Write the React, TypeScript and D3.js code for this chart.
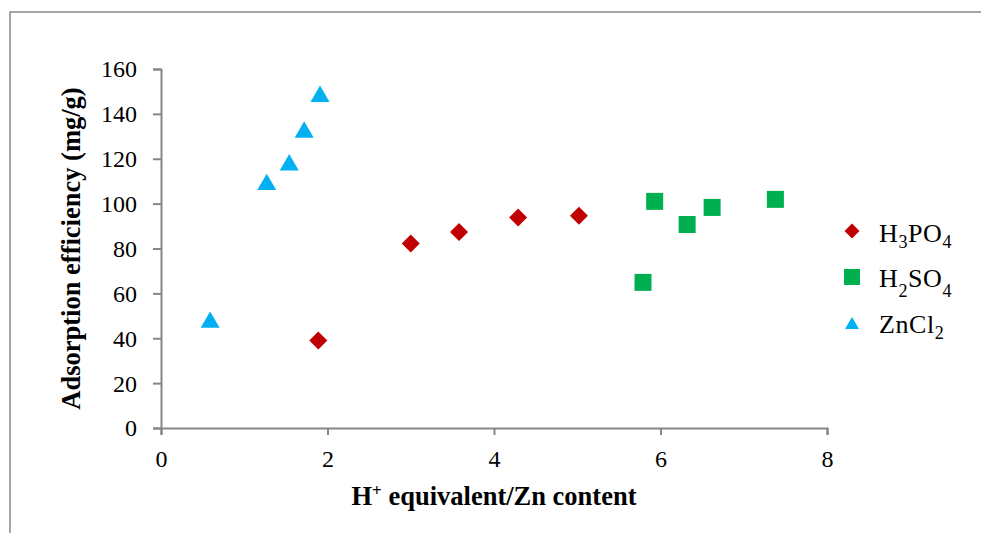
import { useEffect, useRef } from 'react';
import * as d3 from 'd3';

// values
const h3po4X = [1.89, 3.0, 3.58, 4.29, 5.02];
const h3po4Y = [39, 82.2, 87.4, 93.8, 94.6];
const h2so4X = [5.79, 5.93, 6.32, 6.62, 7.38];
const h2so4Y = [64.9, 101, 90.7, 98.3, 101.9];
const zncl2X = [0.59, 1.27, 1.54, 1.72, 1.91];
const zncl2Y = [48.3, 109.7, 118.4, 133, 149];
const xTicks = [0, 2, 4, 6, 8];
const yTicks = [0, 20, 40, 60, 80, 100, 120, 140, 160];

const W = 981;
const H = 533;
const FONT = '"Liberation Serif", "Times New Roman", serif';
const AXIS = '#868686';

export default function App() {
  const ref = useRef<SVGSVGElement | null>(null);

  useEffect(() => {
    const svg = d3.select(ref.current);
    svg.selectAll('*').remove();

    const x = d3.scaleLinear().domain([0, 8]).range([161, 827]);
    const y = d3.scaleLinear().domain([0, 160]).range([428, 69]);

    // outer frame: only top and left edges fall inside the picture
    svg.append('path')
      .attr('d', `M10,${H + 5}V12H${W + 5}`)
      .attr('fill', 'none').attr('stroke', '#898989').attr('stroke-width', 1.5);

    // y axis
    const gy = svg.append('g').attr('transform', `translate(${x(0)},0)`)
      .call(d3.axisLeft(y).tickValues(yTicks).tickSize(8).tickPadding(16).tickSizeOuter(8));
    // x axis
    const gx = svg.append('g').attr('transform', `translate(0,${y(0)})`)
      .call(d3.axisBottom(x).tickValues(xTicks).tickSize(7).tickPadding(14).tickSizeOuter(7));

    [gx, gy].forEach(g => {
      g.select('.domain').attr('stroke', AXIS).attr('stroke-width', 2);
      g.selectAll('.tick line').attr('stroke', AXIS).attr('stroke-width', 2);
      g.selectAll('.tick text').attr('fill', '#000').style('font', `24px ${FONT}`);
    });
    gy.selectAll('.tick text').attr('dy', '0.33em');
    gx.selectAll('.tick text').attr('dy', '0.73em');

    // axis titles
    const xt = svg.append('text')
      .attr('x', 494).attr('y', 505).attr('text-anchor', 'middle')
      .style('font', `bold 26.5px ${FONT}`);
    xt.append('tspan').text('H');
    xt.append('tspan').attr('dy', -9).style('font-size', '17px').text('+');
    xt.append('tspan').attr('dy', 9).text(' equivalent/Zn content');

    svg.append('text')
      .attr('transform', `translate(80,${(y(0) + y(160)) / 2}) rotate(-90)`)
      .attr('text-anchor', 'middle')
      .style('font', `bold 26.5px ${FONT}`)
      .text('Adsorption efficiency (mg/g)');

    const diamond = (s: number) => d3.symbol(d3.symbolSquare, s * s / 2)();
    const square = (s: number) => d3.symbol(d3.symbolSquare, s * s)();
    const triArea = (w: number) => (Math.sqrt(3) / 4) * w * w;
    const triangle = (w: number) => d3.symbol(d3.symbolTriangle, triArea(w))();
    const triOff = (w: number) => Math.sqrt(triArea(w) / (3 * Math.sqrt(3))) / 2;

    const series = [
      { name: 'h3po4', xs: h3po4X, ys: h3po4Y, color: '#C00000', shape: 'diamond' },
      { name: 'h2so4', xs: h2so4X, ys: h2so4Y, color: '#00B050', shape: 'square' },
      { name: 'zncl2', xs: zncl2X, ys: zncl2Y, color: '#00B0F0', shape: 'triangle' },
    ];

    const marker = (g: any, shape: string, cx: number, cy: number, s: number, color: string) => {
      if (shape === 'diamond') {
        g.append('path').attr('d', diamond(s)).attr('fill', color)
          .attr('transform', `translate(${cx},${cy}) rotate(45)`);
      } else if (shape === 'square') {
        g.append('path').attr('d', square(s)).attr('fill', color)
          .attr('transform', `translate(${cx},${cy})`);
      } else {
        g.append('path').attr('d', triangle(s)).attr('fill', color)
          .attr('transform', `translate(${cx},${cy + triOff(s)})`);
      }
    };

    const pts = svg.append('g');
    series.forEach(sr => {
      sr.xs.forEach((xv, i) => {
        const size = sr.shape === 'diamond' ? 18 : sr.shape === 'square' ? 17 : 19;
        marker(pts, sr.shape, x(xv), y(sr.ys[i]), size, sr.color);
      });
    });

    // legend
    const lg = svg.append('g');
    const legendRows = [
      { cy: 231, base: 242, parts: [['H', 0], ['3', 1], ['PO', 0], ['4', 1]] },
      { cy: 277, base: 287, parts: [['H', 0], ['2', 2], ['SO', 0], ['4', 2]] },
      { cy: 323, base: 333, parts: [['ZnCl', 0], ['2', 1]] },
    ];
    legendRows.forEach((row, i) => {
      const sr = series[i];
      const size = sr.shape === 'diamond' ? 15 : sr.shape === 'square' ? 16 : 14;
      marker(lg, sr.shape, 852, row.cy, size, sr.color);
      const t = lg.append('text').attr('x', 879).attr('y', row.base)
        .style('font', `26px ${FONT}`).style('letter-spacing', '0.6px');
      let prev = 0;
      (row.parts as [string, number][]).forEach(([txt, sub]) => {
        const shift = sub === 0 ? 0 : sub === 1 ? 6 : 10;
        t.append('tspan').attr('dy', shift - prev)
          .style('font-size', sub ? '18px' : '26px').text(txt);
        prev = shift;
      });
    });
  }, []);

  return (
    <div style={{ position: 'absolute', left: 0, top: 0, width: W, height: H, background: '#fff' }}>
      <svg ref={ref} width={W} height={H} style={{ display: 'block', overflow: 'hidden' }} />
    </div>
  );
}
